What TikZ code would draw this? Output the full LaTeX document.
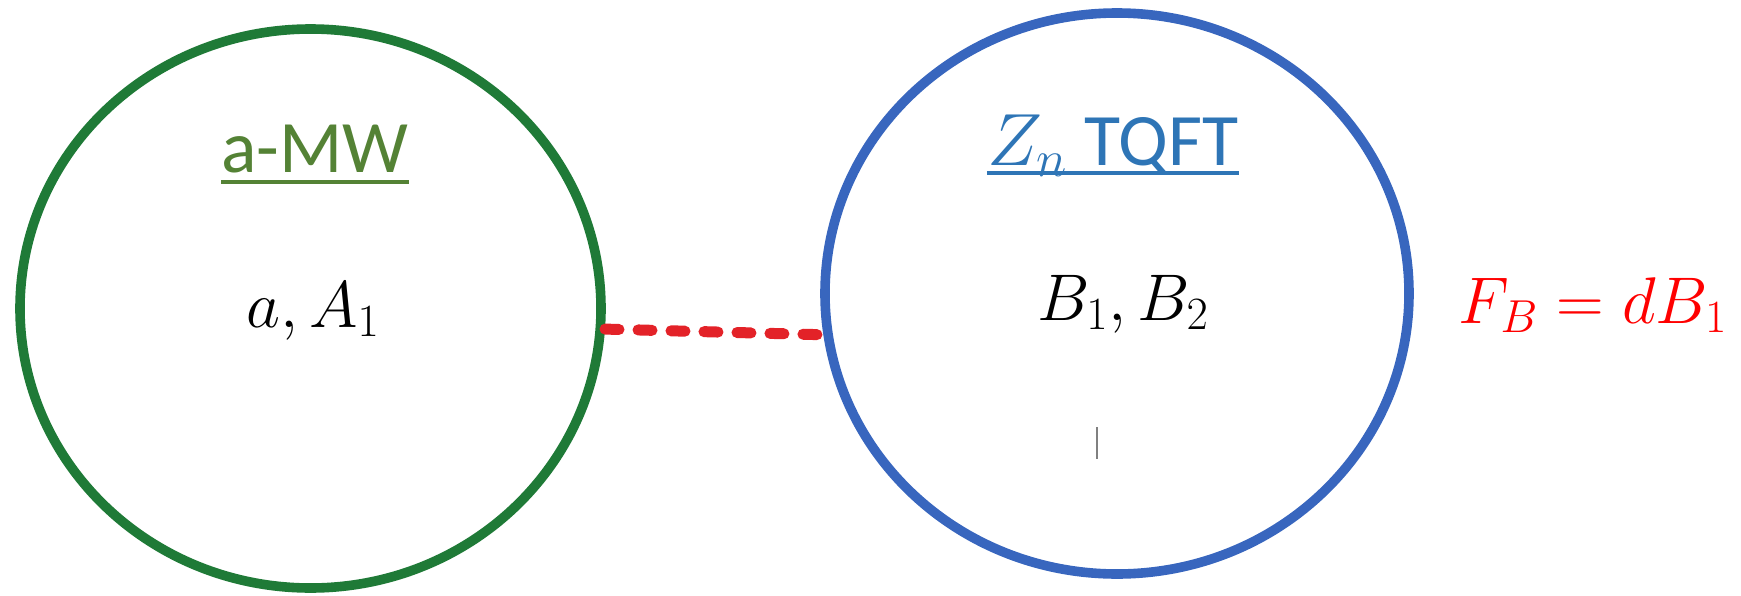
\RequirePackage{fix-cm}
\documentclass[tikz,border=0pt]{standalone}
\usepackage[no-math]{fontspec}
\setmainfont{Carlito}
\usetikzlibrary{shapes.geometric,calc}
\definecolor{ringgreen}{HTML}{1F7A37}
\definecolor{ringblue}{HTML}{3866BE}
\definecolor{mwgreen}{HTML}{548235}
\definecolor{tqblue}{HTML}{2E75B6}
\definecolor{linkred}{HTML}{E32228}

\begin{document}
\begin{tikzpicture}[x=0.5pt, y=-0.5pt,
    ring/.style={ellipse, draw, line width=4.8pt, inner sep=0pt},
    title/.style={anchor=base, inner sep=0pt, font=\fontsize{37}{44}\selectfont},
    field/.style={anchor=base, inner sep=0pt, font=\fontsize{33}{40}\selectfont}]

  \useasboundingbox (0,0) rectangle (1741,595);

  % the two regions
  \node[ring, draw=ringgreen, minimum width=290.5pt, minimum height=279.5pt] (mw) at (310.5,308.5) {};
  \node[ring, draw=ringblue,  minimum width=292pt,   minimum height=280.5pt] (tq) at (1117,293.5) {};

  % titles
  \node[title, text=mwgreen] (mwtitle) at (315,172) {a-MW};
  \draw[mwgreen, line width=2pt] ($(mwtitle.base west)+(0,10)$) -- ($(mwtitle.base east)+(0,10)$);
  \node[title, text=tqblue] (tqtitle) at (1113,165) {$Z_n$ TQFT};
  \draw[tqblue, line width=2pt] ($(tqtitle.base west)+(0,8)$) -- ($(tqtitle.base east)+(0,8)$);

  % fields
  \node[field] (mwfields) at (313,327) {$a, A_1$};
  \node[field] (tqfields) at (1123,320) {$B_1, B_2$};
  \node[field, text=red] (flux) at (1593,323) {$F_B = dB_1$};

  % boundary link
  \draw[linkred, line width=5.5pt, line cap=round, dash pattern=on 7pt off 9.5pt]
    (mw.-4) -- (tq.188);

  \draw[gray, line width=0.8pt] (1097,427) -- (1097,459);
\end{tikzpicture}
\end{document}
